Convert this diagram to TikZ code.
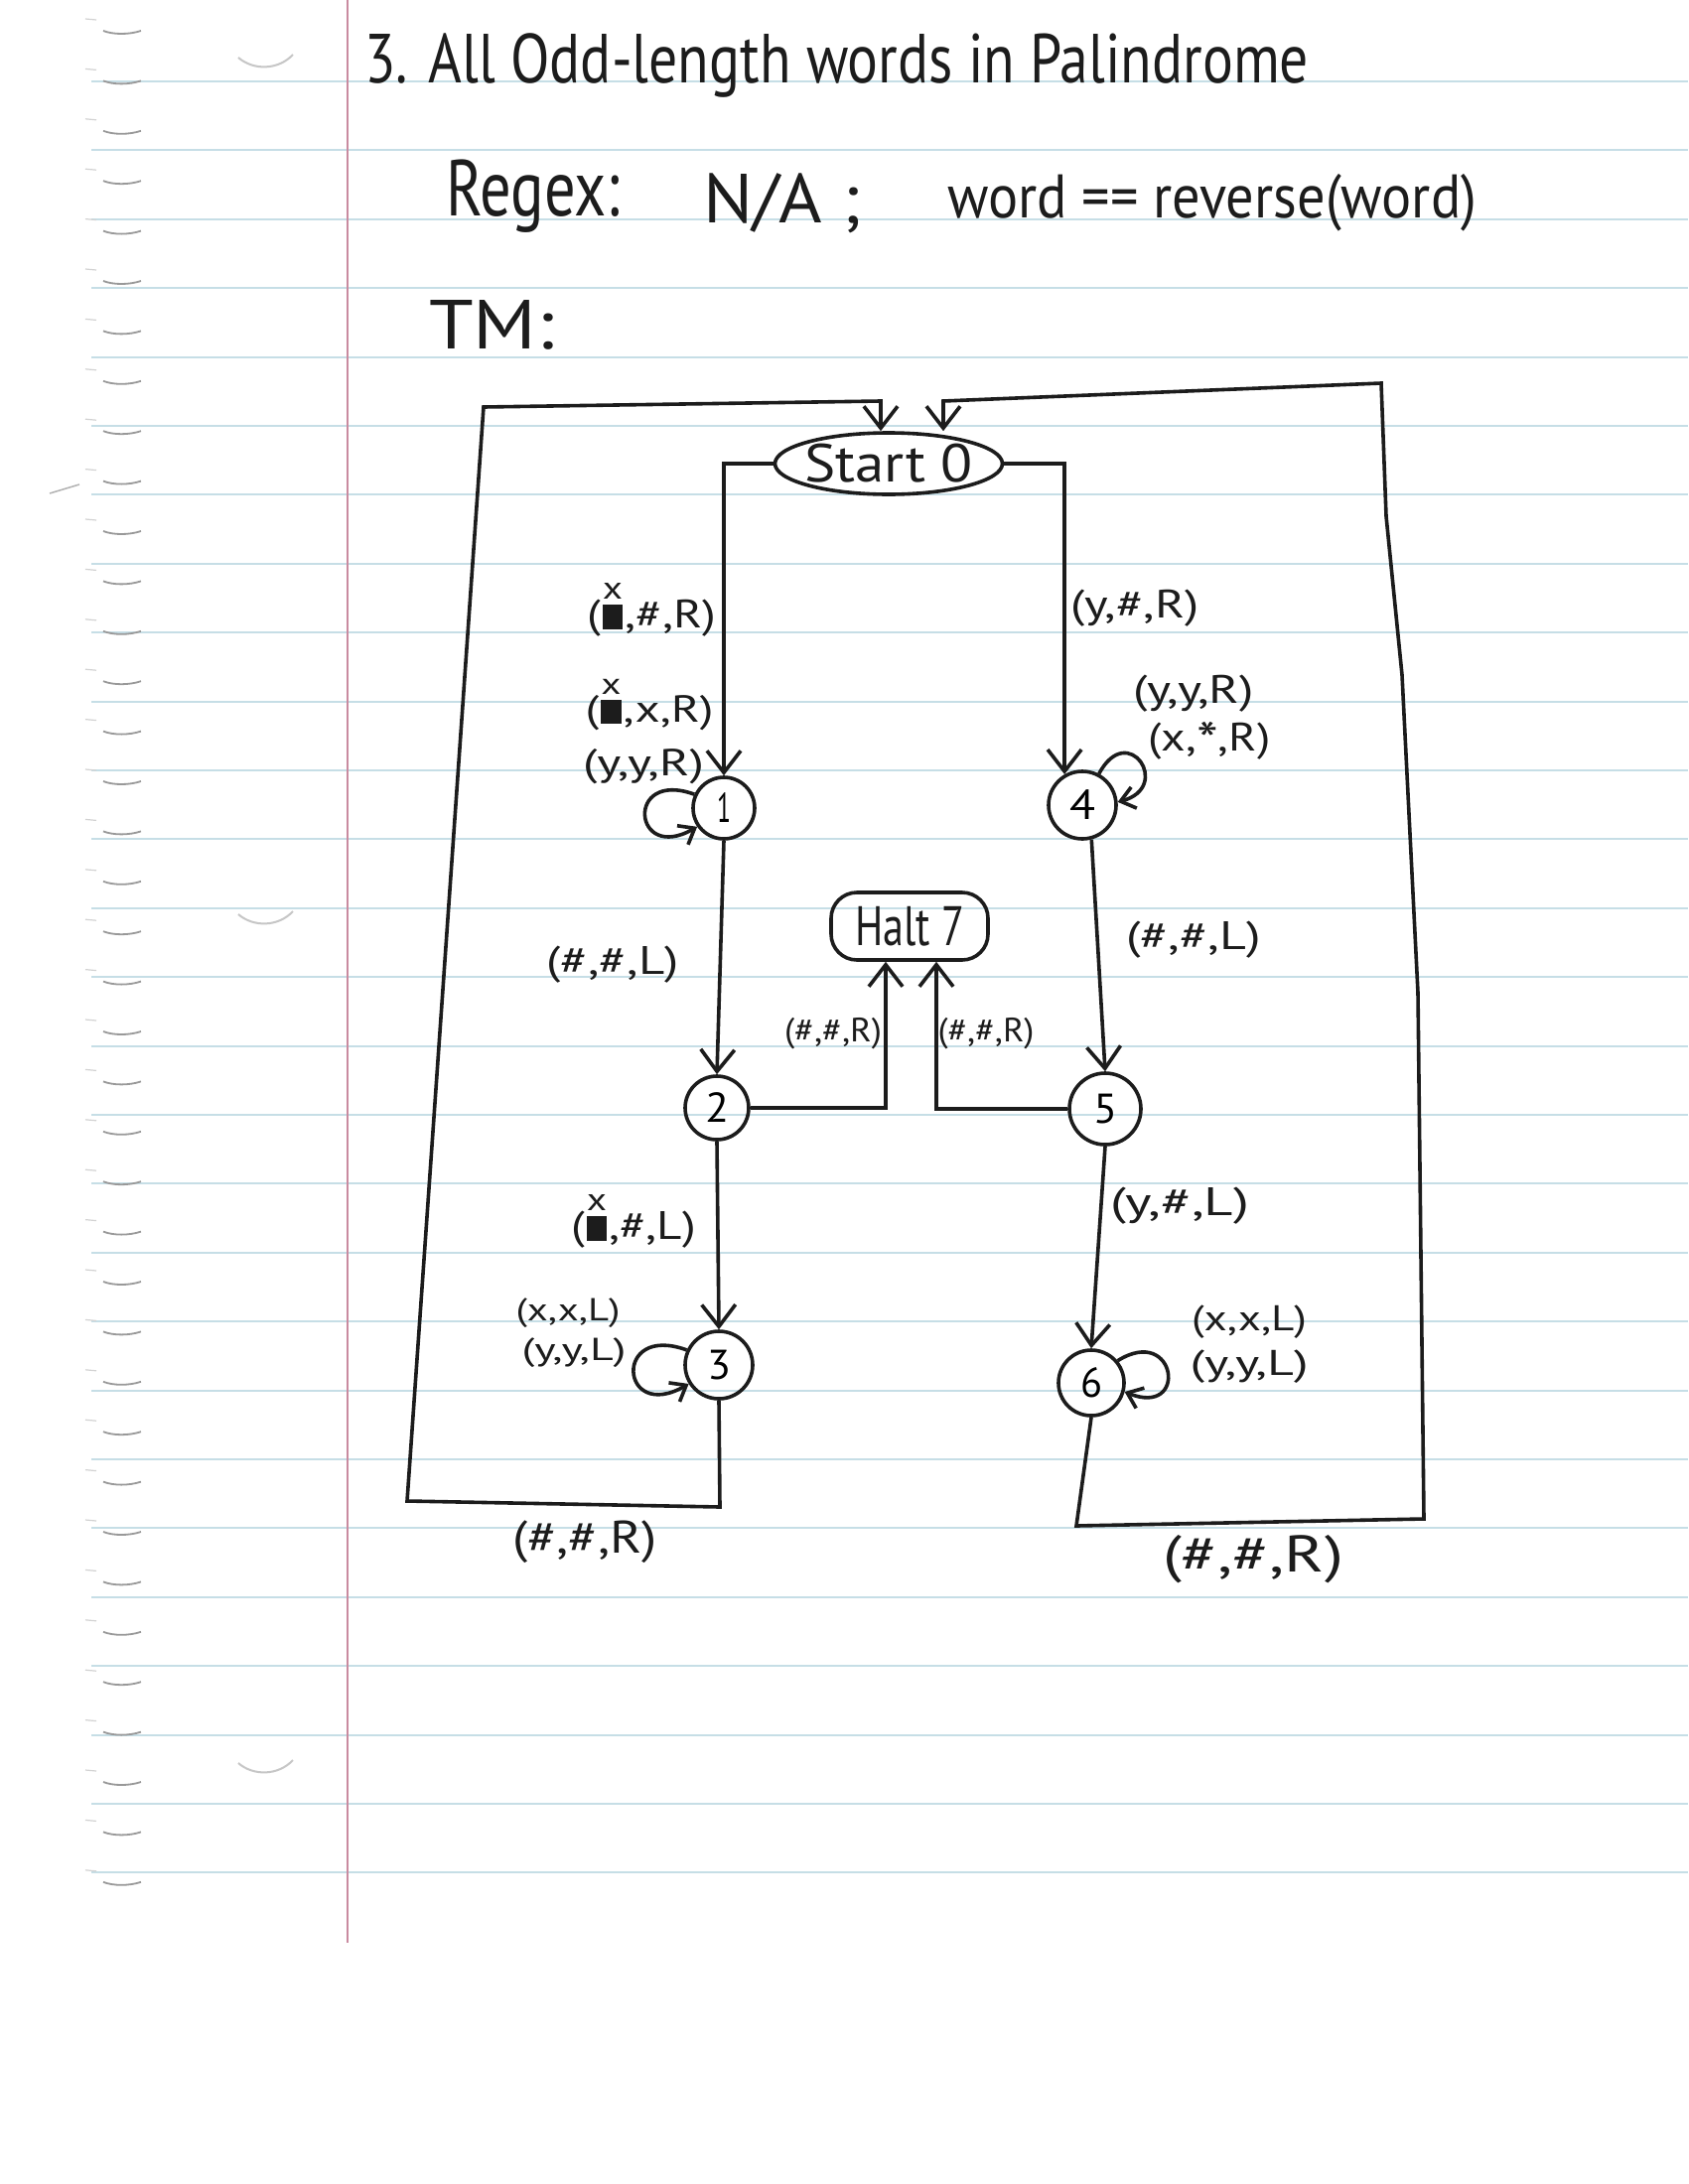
\documentclass[tikz,border=0pt]{standalone}
\usepackage{fontspec}
\usepackage{graphicx}
\usetikzlibrary{arrows.meta,shapes.geometric}
\newfontfamily\hand{PT Sans}
\newcommand\hwt[3]{\resizebox{#2}{\height}{\fontsize{#1}{#1}\selectfont\hand #3}}
\newcommand\blotx{\makebox[0.5em]{\rule[-0.05em]{0.42em}{0.62em}}\llap{\makebox[0.5em]{\raisebox{0.72em}{\scalebox{0.8}{x}}}}}
\newcommand\starr{\raisebox{-0.2em}{\scalebox{1.3}{*}}}
\definecolor{ink}{HTML}{1C1C1C}
\definecolor{rulec}{HTML}{C6DEE6}
\definecolor{marg}{HTML}{C98BA0}
\begin{document}
\begin{tikzpicture}[x=1pt,y=1pt,
  pen/.style={draw=ink, line width=3.6pt},
  arr/.style={pen, -{Straight Barb[length=22pt,width=34pt,line width=3.6pt]}},
  larr/.style={pen, -{Straight Barb[length=14pt,width=22pt,line width=3.6pt]}},
  st/.style={circle, pen, inner sep=0pt, minimum size=#1},
  lab/.style={inner sep=0pt, text=ink},
  txt/.style={inner sep=0pt, text=ink, anchor=base west}]
\useasboundingbox (0,0) rectangle (1700,-2200);
\fill[white] (0,0) rectangle (1700,-2200);
% paper
\foreach \k in {0,...,26} {\pgfmathsetmacro\yy{-82-69.4*\k}
  \draw[rulec, line width=2pt] (92,\yy) -- (1700,\yy);}
\draw[marg, line width=1.6pt] (350,0) -- (350,-1957);
\foreach \k in {0,...,37} {\pgfmathsetmacro\yy{-31-50.4*\k}
  \draw[gray!80, line width=1.8pt] (104,\yy) .. controls (114,\yy-4) and (130,\yy-4) .. (142,\yy);
  \draw[gray!35, line width=1.2pt] (86,\yy+12) -- (97,\yy+11);}
\foreach \yy in {-58,-921,-1776}
  \draw[gray!45, line width=2pt] (240,\yy) .. controls (255,\yy-13) and (280,\yy-13) .. (295,\yy+3);
\draw[gray!60, line width=1.5pt] (50,-497) -- (80,-488);
% heading
\node[txt] (title) at (367,-84) {\hwt{70pt}{951pt}{3. All Odd-length words in Palindrome}};
\node[txt] (regex) at (449,-217) {\hwt{80pt}{175pt}{Regex:}};
\node[txt] (na) at (708,-224) {\hwt{70pt}{159pt}{N/A ;}};
\node[txt] (eq) at (954,-219) {\hwt{62pt}{533pt}{word == reverse(word)}};
\node[txt] (tm) at (432,-351) {\hwt{70pt}{126pt}{TM:}};
% states
\node[ellipse, pen, inner sep=0pt, minimum width=229pt, minimum height=62pt] (S) at (895,-467) {};
\node[lab] (St) at (S.center) {\hwt{54pt}{170pt}{Start 0}};
\node[rectangle, rounded corners=26pt, pen, inner sep=0pt, minimum width=158pt, minimum height=68pt] (H) at (916,-933) {};
\node[lab] (Ht) at (H.center) {\hwt{56pt}{110pt}{Halt 7}};
\node[st=62pt] (n1) at (729,-814) {\hwt{42pt}{14pt}{1}};
\node[st=64pt] (n2) at (722,-1116) {\hwt{42pt}{24pt}{2}};
\node[st=68pt] (n3) at (724,-1375) {\hwt{42pt}{24pt}{3}};
\node[st=68pt] (n4) at (1090,-811) {\hwt{42pt}{26pt}{4}};
\node[st=72pt] (n5) at (1113,-1117) {\hwt{42pt}{24pt}{5}};
\node[st=66pt] (n6) at (1099,-1393) {\hwt{42pt}{22pt}{6}};
% corners
\coordinate (a1) at (725,-1518);
\coordinate (a2) at (410,-1512);
\coordinate (a3) at (487,-410);
\coordinate (a4) at (887,-404);
\coordinate (b1) at (1084,-1537);
\coordinate (b2) at (1434,-1530);
\coordinate (b2a) at (1428,-1000);
\coordinate (b2b) at (1412,-680);
\coordinate (b2c) at (1396,-520);
\coordinate (b3) at (1391,-386);
\coordinate (b4) at (950,-404);
% transitions
\draw[arr] (S.west) -| (n1.north);
\draw[arr] (n1.south) -- (n2.north);
\draw[arr] (n2.south) -- (n3.north);
\draw[arr] (n2.east) -| ([xshift=-24pt]H.south);
\draw[arr] (n5.west) -| ([xshift=27pt]H.south);
\draw[arr] (S.east) -| (n4.120);
\draw[arr] (n4.-75) -- (n5.north);
\draw[arr] (n5.south) -- (n6.north);
\draw[arr] (n3.south) -- (a1) -- (a2) -- (a3) -- (a4) -- ([xshift=-8pt]S.north);
\draw[arr] (n6.south) -- (b1) -- (b2) -- (b2a) -- (b2b) -- (b2c) -- (b3) -- (b4) -- ([xshift=55pt]S.north);
% self loops
\draw[larr] (n1.155) .. controls +(160:75) and +(210:75) .. (n1.215);
\draw[larr] (n3.155) .. controls +(160:80) and +(210:80) .. (n3.212);
\draw[larr] (n4.62) .. controls +(62:62) and +(15:58) .. (n4.5);
\draw[larr] (n6.40) .. controls +(32:70) and +(-22:70) .. (n6.-15);
% labels
\node[lab] (l01) at (656,-614) {\hwt{40pt}{130pt}{(\blotx,\#,R)}};
\node[lab] (l11a) at (654,-710) {\hwt{38pt}{129pt}{(\blotx,x,R)}};
\node[lab] (l11b) at (648,-772) {\hwt{38pt}{122pt}{(y,y,R)}};
\node[lab] (l12) at (617,-972) {\hwt{40pt}{133pt}{(\#,\#,L)}};
\node[lab] (l27) at (839,-1041) {\hwt{34pt}{98pt}{(\#,\#,R)}};
\node[lab] (l57) at (993,-1041) {\hwt{34pt}{97pt}{(\#,\#,R)}};
\node[lab] (l23) at (638,-1230) {\hwt{40pt}{126pt}{(\blotx,\#,L)}};
\node[lab] (l33a) at (572,-1323) {\hwt{32pt}{105pt}{(x,x,L)}};
\node[lab] (l33b) at (578,-1363) {\hwt{32pt}{105pt}{(y,y,L)}};
\node[lab] (l30) at (589,-1553) {\hwt{46pt}{146pt}{(\#,\#,R)}};
\node[lab] (l04) at (1143,-613) {\hwt{40pt}{129pt}{(y,\#,R)}};
\node[lab] (l44a) at (1202,-699) {\hwt{40pt}{122pt}{(y,y,R)}};
\node[lab] (l44b) at (1218,-746) {\hwt{40pt}{123pt}{(x,\starr,R)}};
\node[lab] (l45) at (1202,-947) {\hwt{40pt}{136pt}{(\#,\#,L)}};
\node[lab] (l56) at (1188,-1215) {\hwt{40pt}{140pt}{(y,\#,L)}};
\node[lab] (l66a) at (1258,-1332) {\hwt{36pt}{116pt}{(x,x,L)}};
\node[lab] (l66b) at (1258,-1377) {\hwt{36pt}{119pt}{(y,y,L)}};
\node[lab] (l60) at (1262,-1571) {\hwt{52pt}{182pt}{(\#,\#,R)}};
\end{tikzpicture}
\end{document}
